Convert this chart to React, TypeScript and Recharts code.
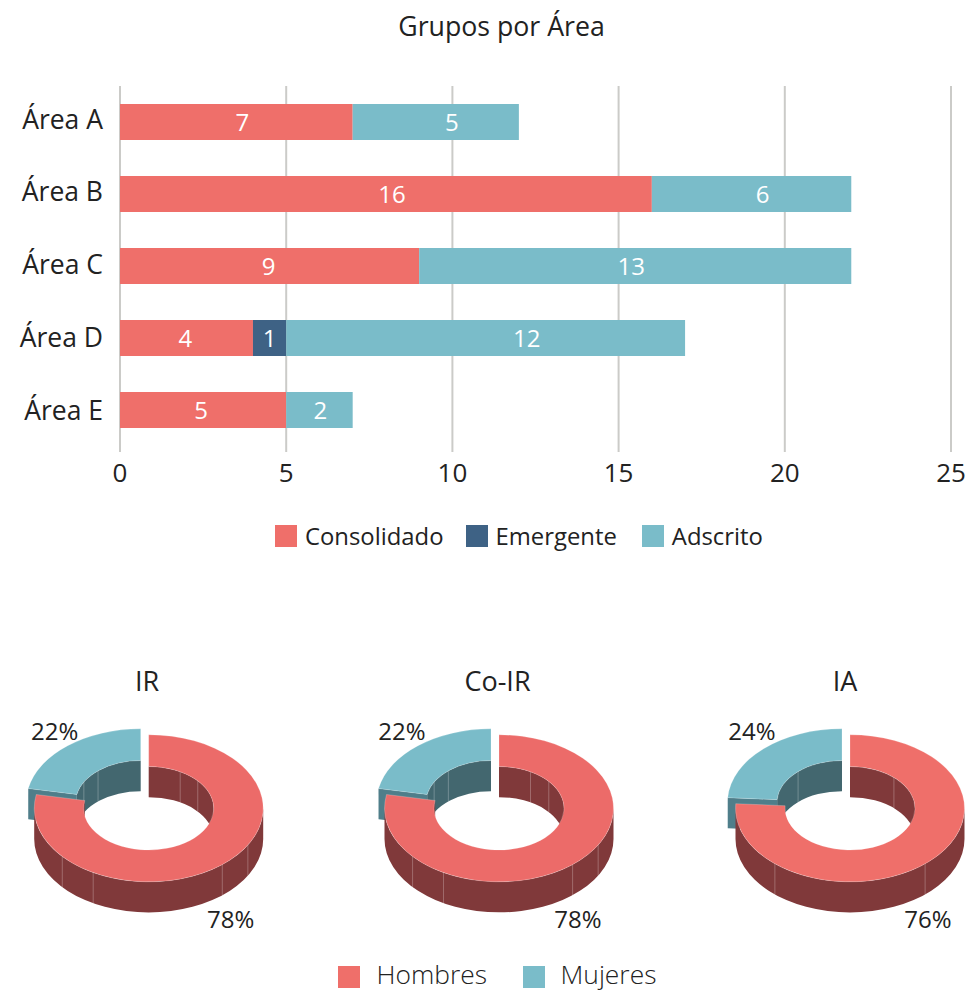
import React from 'react';
import { BarChart, Bar, XAxis, YAxis, CartesianGrid, LabelList, Legend, PieChart, Pie } from 'recharts';

const areas = ['Área A', 'Área B', 'Área C', 'Área D', 'Área E'];
const consolidado = [7, 16, 9, 4, 5];
const emergente = [null, null, null, 1, null];
const adscrito = [5, 6, 13, 12, 2];
const xTicks = [0, 5, 10, 15, 20, 25];

const barData = areas.map((area, i) => ({
  area,
  Consolidado: consolidado[i],
  Emergente: emergente[i],
  Adscrito: adscrito[i],
}));

const pieTitles = ['IR', 'Co-IR', 'IA'];
const hombres = [78, 78, 76];
const mujeres = [22, 22, 24];
const pieLegend = ['Hombres', 'Mujeres'];

const RED = '#EF6F6A';
const BLUE = '#3E6285';
const TEAL = '#7ABCC9';
const PIE_REDS = ['#EC6B69', '#EC6B69', '#EF6F6A'];
const RED_WALL = '#80393A';
const TEAL_WALL = '#43676F';
const TEAL_CUT = '#4F7E8A';
const INK = '#222222';
const FONT = '"Open Sans", sans-serif';

const pieCx = [148.7, 499, 850];
const PIE_CY = 248.3;
const SQUASH = 0.642;
const DEPTH = 30.6;
const EXPLODE_X = -8;
const EXPLODE_Y = -6;
const facetSets = [
  { outer: [120, 140, 209, 229], inner: [29, 49, 299, 319] },
  { outer: [120, 140, 209, 229], inner: [29, 50, 299, 319] },
  { outer: [139, 221], inner: [42.5, 317.5] },
];
const labelOffsets = [
  { Mujeres: [-94, -78], Hombres: [82, 110] },
  { Mujeres: [-97, -78], Hombres: [79, 110] },
  { Mujeres: [-98, -78], Hombres: [78, 110] },
];
const labelShift: Record<string, number[]> = {
  Consolidado: [6, 6, -1, -1, -2],
  Emergente: [0, 0, 0, 1, 0],
  Adscrito: [16, 11, -4, 41, 1],
};
const areaLabelShift = [-3, -3, -2, -1, 0];

const rad = (d: number) => (d * Math.PI) / 180;

function makeShape(facets: { outer: number[]; inner: number[] }) {
  return function Donut3D(p: any) {
    const isTeal = p.name === 'Mujeres';
    const cx = p.cx + (isTeal ? EXPLODE_X : 0);
    const cy = p.cy + (isTeal ? EXPLODE_Y : 0);
    const ro = p.outerRadius;
    const ri = p.innerRadius;
    let t1 = 90 - p.endAngle;
    let t2 = 90 - p.startAngle;
    while (t1 < 0) {
      t1 += 360;
      t2 += 360;
    }
    const pt = (t: number, r: number, dy = 0) =>
      `${(cx + r * Math.sin(rad(t))).toFixed(2)} ${(cy - r * SQUASH * Math.cos(rad(t)) + dy).toFixed(2)}`;
    const arc = (a: number, b: number, r: number, dy = 0, rev = false) => {
      const large = Math.abs(b - a) > 180 ? 1 : 0;
      const end = rev ? pt(a, r, dy) : pt(b, r, dy);
      return `A ${r} ${r * SQUASH} 0 ${large} ${rev ? 0 : 1} ${end}`;
    };
    const wall = (a: number, b: number, r: number) =>
      `M ${pt(a, r)} ${arc(a, b, r)} L ${pt(b, r, DEPTH)} ${arc(a, b, r, DEPTH, true)} Z`;
    const clip = (a: number, b: number) => {
      const lo = Math.max(a, t1);
      const hi = Math.min(b, t2);
      return hi > lo ? [lo, hi] : null;
    };
    const wallColor = isTeal ? TEAL_WALL : RED_WALL;
    const frontColor = isTeal ? TEAL_CUT : RED_WALL;
    const innerBack = [clip(0, 90), clip(270, 360)].filter(Boolean) as number[][];
    const outerFront = clip(90, 270);
    const inRange = (t: number) => t > t1 && t < t2;
    return (
      <g>
        {innerBack.map(([a, b], i) => (
          <path key={i} d={wall(a, b, ri)} fill={wallColor} />
        ))}
        {facets.inner.filter(inRange).map((t) => (
          <path key={t} d={`M ${pt(t, ri)} L ${pt(t, ri, DEPTH)}`} stroke="#fff" strokeOpacity={0.25} strokeWidth={1} />
        ))}
        {outerFront && <path d={wall(outerFront[0], outerFront[1], ro)} fill={frontColor} />}
        {facets.outer.filter(inRange).map((t) => (
          <path key={t} d={`M ${pt(t, ro)} L ${pt(t, ro, DEPTH)}`} stroke="#fff" strokeOpacity={0.25} strokeWidth={1} />
        ))}
        {t1 > 270 && (
          <path
            d={`M ${pt(t1, ro)} L ${pt(t1, ri)} L ${pt(t1, ri, DEPTH)} L ${pt(t1, ro, DEPTH)} Z`}
            fill={TEAL_CUT}
          />
        )}
        <path
          d={`M ${pt(t1, ro)} ${arc(t1, t2, ro)} L ${pt(t2, ri)} ${arc(t1, t2, ri, 0, true)} Z`}
          fill={p.fill}
          stroke="#fff"
          strokeOpacity={0.35}
          strokeWidth={0.6}
        />
      </g>
    );
  };
}

function makeLabel(offsets: Record<string, number[]>) {
  return function PieLabel(p: any) {
    const [dx, dy] = offsets[p.name];
    return (
      <text x={p.cx + dx} y={p.cy + dy} textAnchor="middle" dominantBaseline="central" fontSize={24} fontFamily={FONT} fill={INK}>
        {`${p.value}%`}
      </text>
    );
  };
}

function makeBarLabel(series: string) {
  return function BarValue(p: any) {
    if (p.value == null) return null;
    return (
      <text
        x={p.x + p.width / 2 + labelShift[series][p.index]}
        y={p.y + p.height / 2 - 1}
        textAnchor="middle"
        dominantBaseline="central"
        fill="#fff"
        fontSize={24}
        fontFamily={FONT}
      >
        {p.value}
      </text>
    );
  };
}

function AreaTick(p: any) {
  return (
    <text
      x={103}
      y={p.y + areaLabelShift[p.index]}
      textAnchor="end"
      dominantBaseline="central"
      fontSize={26.5}
      fontFamily={FONT}
      fill={INK}
    >
      {p.payload.value}
    </text>
  );
}

function BarLegend({ payload }: any) {
  return (
    <div style={{ position: 'absolute', left: 275, top: 0, display: 'flex', alignItems: 'center', fontFamily: FONT, fontSize: 23.85, color: INK, lineHeight: '24px' }}>
      {(payload || []).map((it: any, i: number) => (
        <span key={it.value} style={{ display: 'flex', alignItems: 'center', marginRight: i === 0 ? 22 : 25 }}>
          <span style={{ width: 22, height: 22, background: it.color, display: 'inline-block', marginRight: 8 }} />
          {it.value}
        </span>
      ))}
    </div>
  );
}

function PieLegend() {
  const colors = [RED, TEAL];
  return (
    <div style={{ position: 'absolute', left: 338, top: 0, display: 'flex', alignItems: 'center', fontFamily: FONT, fontSize: 26.4, fontWeight: 300, color: '#222', lineHeight: '28px' }}>
      {pieLegend.map((name, i) => (
        <span key={name} style={{ display: 'flex', alignItems: 'center', marginRight: 36 }}>
          <span style={{ position: 'relative', top: 3, width: 22, height: 22, background: colors[i], display: 'inline-block', marginRight: i === 0 ? 16.5 : 15.5 }} />
          <span>{name}</span>
        </span>
      ))}
    </div>
  );
}

export default function App() {
  return (
    <div style={{ position: 'absolute', left: 0, top: 0, width: 971, height: 990, background: '#fff', overflow: 'hidden' }}>
      <div style={{ position: 'absolute', left: 0, top: 0, width: 971, textAlign: 'center', paddingLeft: 32, boxSizing: 'border-box', lineHeight: '51px', fontFamily: FONT, fontSize: 26.7, color: INK, zIndex: 2 }}>
        Grupos por Área
      </div>
      <BarChart
        width={971}
        height={560}
        data={barData}
        layout="vertical"
        margin={{ top: 86, right: 20, bottom: 50, left: 0 }}
        barSize={36}
        style={{ position: 'absolute', left: 0, top: 0 }}
      >
        <CartesianGrid horizontal={false} stroke="#CBCBC8" strokeWidth={2} />
        <XAxis
          type="number"
          domain={[0, 25]}
          ticks={xTicks}
          axisLine={false}
          tickLine={{ stroke: '#CBCBC8', strokeWidth: 2 }}
          tickSize={6}
          tickMargin={12}
          interval={0}
          tick={{ fontSize: 26, fontFamily: FONT, fill: INK }}
          height={40}
        />
        <YAxis
          type="category"
          dataKey="area"
          width={120}
          axisLine={false}
          tickLine={false}
          tickSize={0}
          tick={<AreaTick />}
        />
        <Legend
          verticalAlign="bottom"
          itemSorter={null}
          content={<BarLegend />}
          wrapperStyle={{ position: 'absolute', left: 0, top: 524, width: 971, height: 24 }}
        />
        {[
          ['Consolidado', RED],
          ['Emergente', BLUE],
          ['Adscrito', TEAL],
        ].map(([key, color]) => (
          <Bar key={key} dataKey={key} stackId="a" fill={color} isAnimationActive={false}>
            <LabelList dataKey={key} content={makeBarLabel(key)} />
          </Bar>
        ))}
      </BarChart>

      <PieChart width={971} height={430} margin={{ top: 0, right: 0, bottom: 0, left: 0 }} style={{ position: 'absolute', left: 0, top: 560 }}>
        {pieTitles.map((title, i) => (
          <text key={title} x={[147, 497.5, 845][i]} y={120.5} textAnchor="middle" dominantBaseline="central" fontSize={27} fontFamily={FONT} fill={INK}>
            {title}
          </text>
        ))}
        {pieTitles.map((title, i) => (
          <Pie
            key={title}
            data={[
              { name: 'Mujeres', value: mujeres[i], fill: TEAL },
              { name: 'Hombres', value: hombres[i], fill: PIE_REDS[i] },
            ]}
            dataKey="value"
            nameKey="name"
            cx={pieCx[i]}
            cy={PIE_CY}
            innerRadius={65}
            outerRadius={114.5}
            startAngle={90}
            endAngle={450}
            stroke="none"
            isAnimationActive={false}
            shape={makeShape(facetSets[i])}
            label={makeLabel(labelOffsets[i])}
            labelLine={false}
          />
        ))}
        <Legend
          content={<PieLegend />}
          wrapperStyle={{ position: 'absolute', left: 0, top: 400, width: 971, height: 28 }}
        />
      </PieChart>
    </div>
  );
}
